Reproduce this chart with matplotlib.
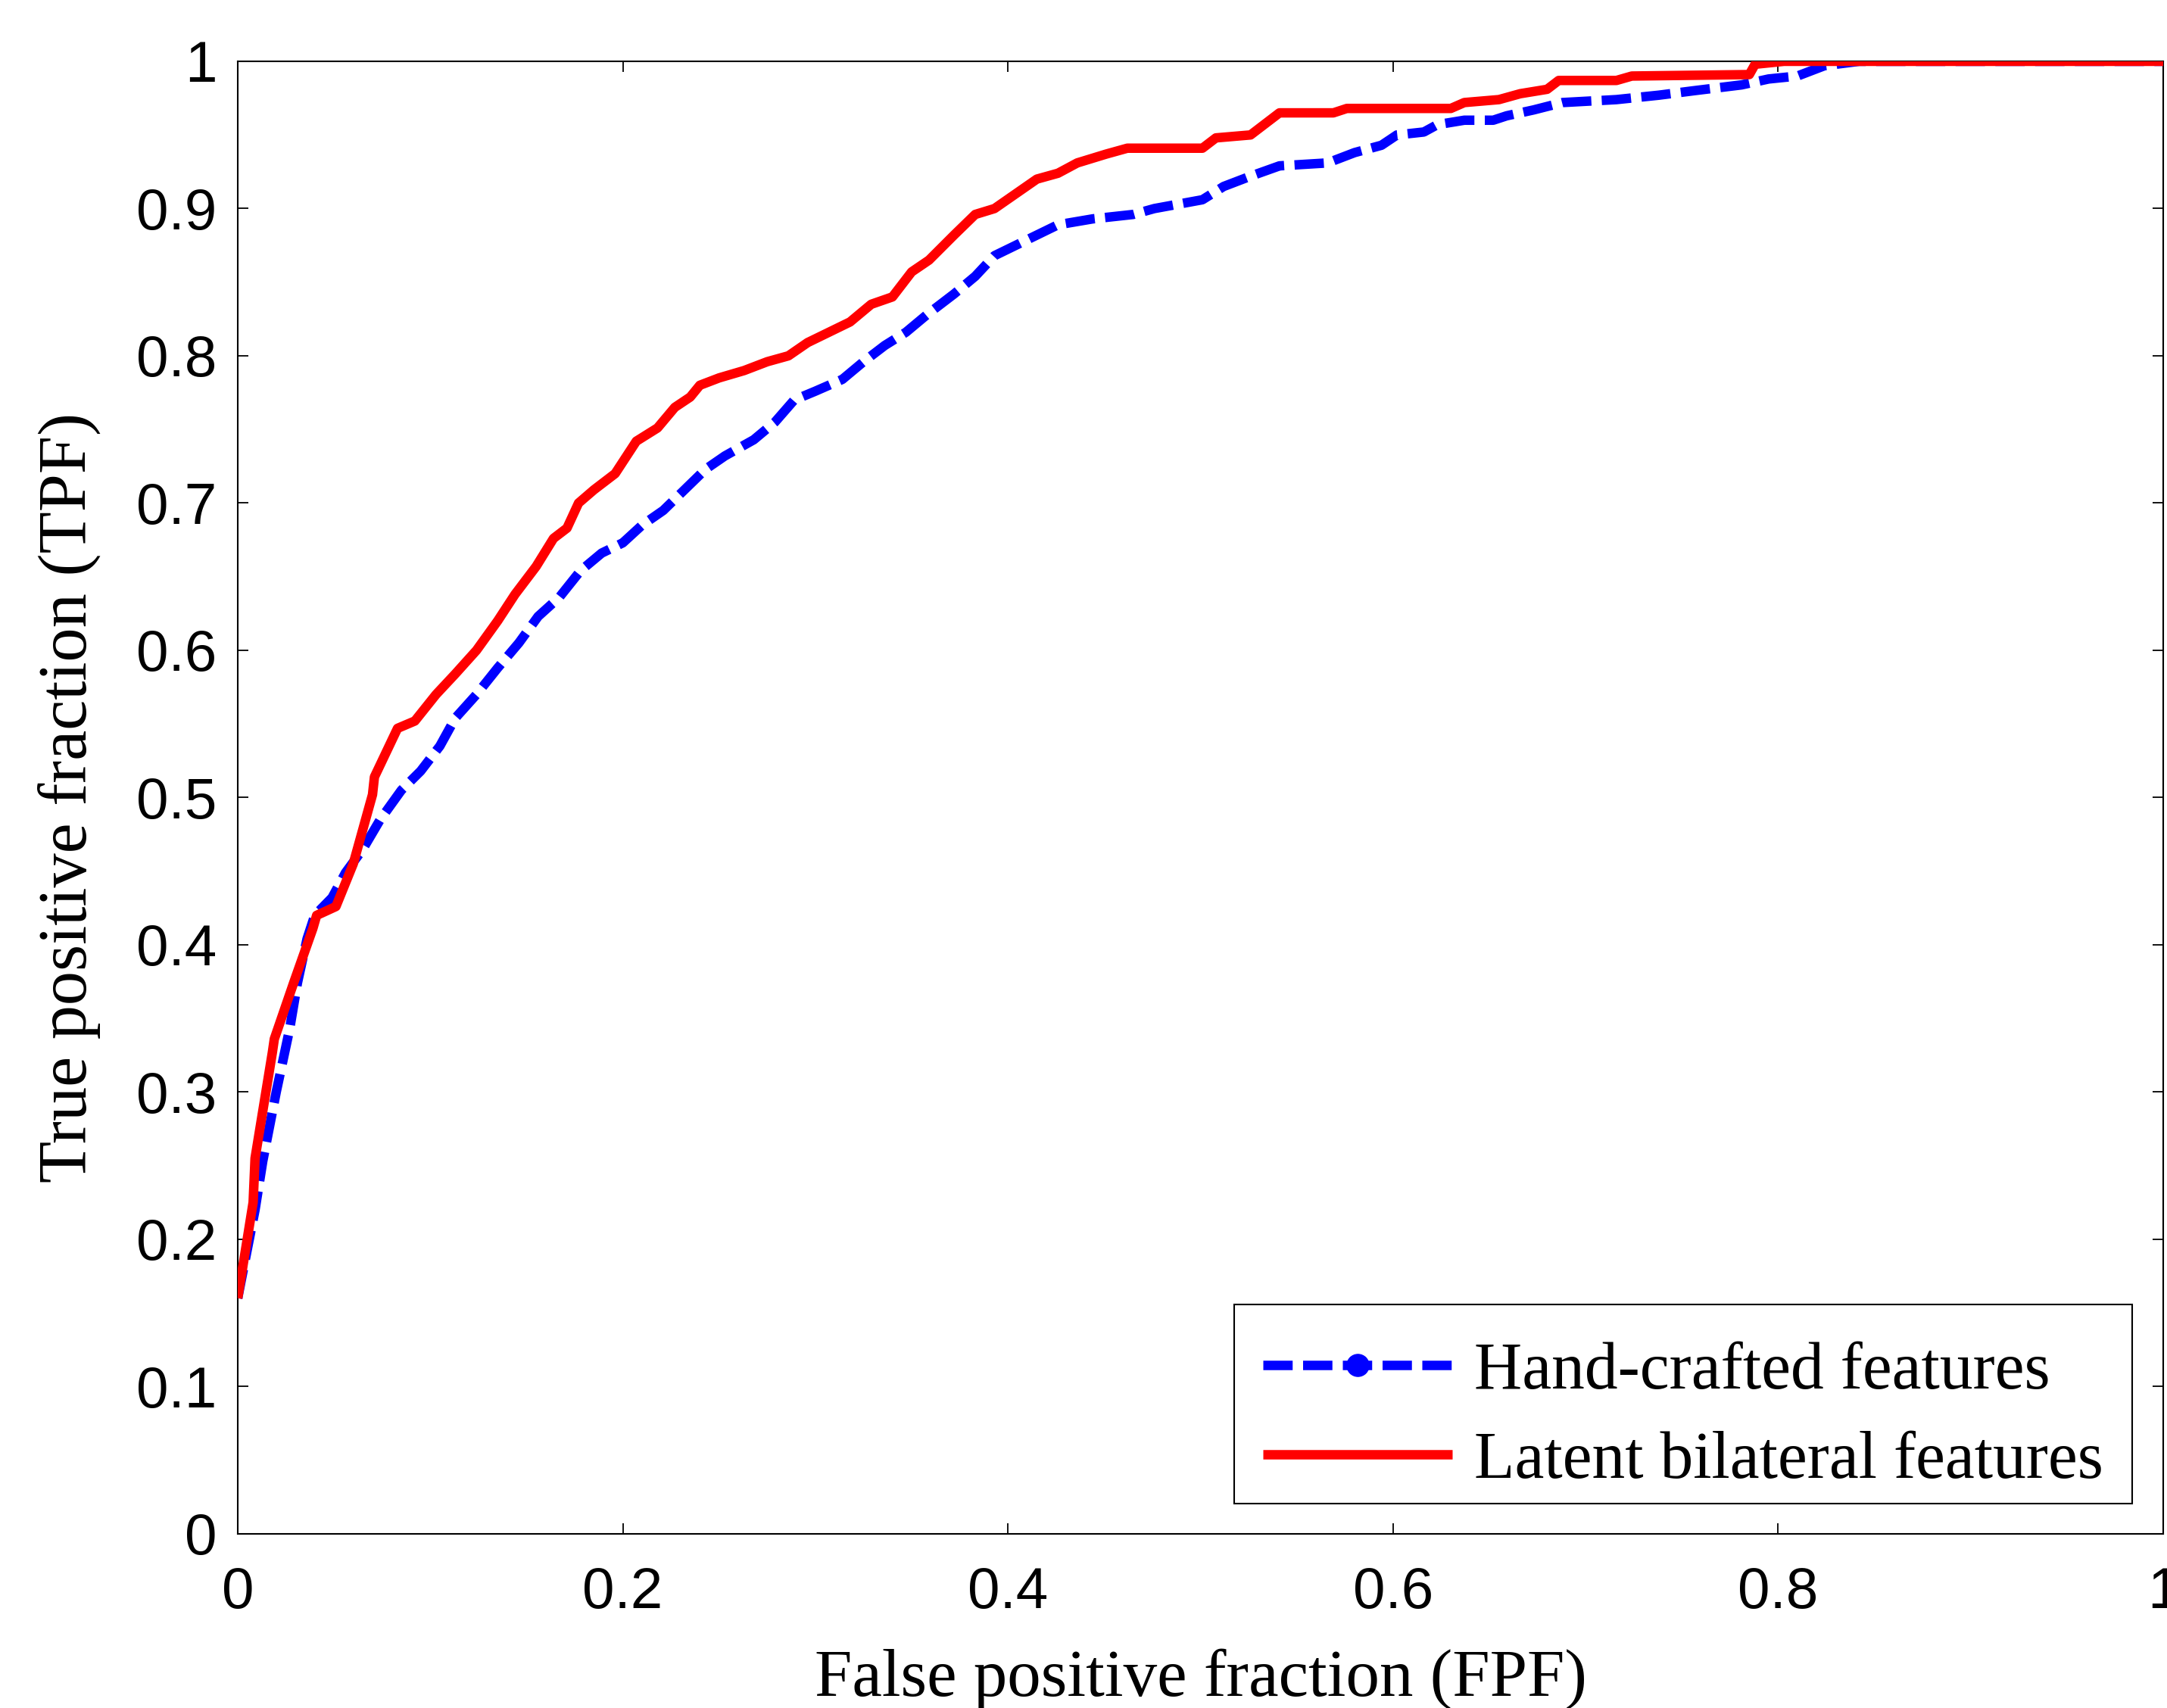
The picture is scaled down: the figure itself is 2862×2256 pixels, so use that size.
import matplotlib
matplotlib.use("Agg")
import matplotlib.pyplot as plt
from matplotlib.lines import Line2D
from matplotlib.patches import Rectangle

# ---- data ----
fpf_latent = [0.0, 0.008, 0.009, 0.018, 0.019, 0.029, 0.039, 0.041, 0.051, 0.060, 0.070, 0.071,
              0.083, 0.092, 0.103, 0.113, 0.124, 0.135, 0.144, 0.155, 0.164, 0.171, 0.177, 0.185,
              0.196, 0.207, 0.218, 0.227, 0.235, 0.240, 0.250, 0.263, 0.275, 0.286, 0.296, 0.307,
              0.318, 0.329, 0.340, 0.350, 0.359, 0.372, 0.383, 0.393, 0.404, 0.415, 0.426, 0.436,
              0.451, 0.462, 0.501, 0.508, 0.526, 0.541, 0.569, 0.576, 0.630, 0.637, 0.655, 0.666,
              0.680, 0.686, 0.716, 0.724, 0.785, 0.788, 0.803, 1.0]
tpf_latent = [0.160, 0.225, 0.255, 0.327, 0.336, 0.374, 0.411, 0.420, 0.426, 0.455, 0.502, 0.514,
              0.547, 0.552, 0.570, 0.584, 0.600, 0.620, 0.638, 0.657, 0.676, 0.683, 0.700, 0.709,
              0.720, 0.742, 0.751, 0.765, 0.772, 0.780, 0.785, 0.790, 0.796, 0.800, 0.809, 0.816,
              0.823, 0.835, 0.840, 0.857, 0.865, 0.882, 0.896, 0.900, 0.910, 0.920, 0.924, 0.931,
              0.937, 0.941, 0.941, 0.948, 0.950, 0.965, 0.965, 0.968, 0.968, 0.972, 0.974, 0.978,
              0.981, 0.987, 0.987, 0.990, 0.991, 0.998, 1.0, 1.0]

fpf_hand = [0.0, 0.009, 0.013, 0.020, 0.027, 0.031, 0.036, 0.040, 0.049, 0.056, 0.065, 0.074,
            0.085, 0.095, 0.105, 0.113, 0.124, 0.135, 0.146, 0.156, 0.167, 0.178, 0.189, 0.200,
            0.210, 0.221, 0.232, 0.243, 0.253, 0.268, 0.279, 0.289, 0.300, 0.314, 0.325, 0.336,
            0.347, 0.358, 0.372, 0.383, 0.393, 0.404, 0.415, 0.426, 0.444, 0.465, 0.476, 0.501,
            0.512, 0.526, 0.541, 0.566, 0.580, 0.594, 0.602, 0.616, 0.623, 0.637, 0.652, 0.659,
            0.673, 0.688, 0.716, 0.738, 0.756, 0.781, 0.795, 0.810, 0.824, 0.842, 1.0]
tpf_hand = [0.160, 0.220, 0.253, 0.300, 0.343, 0.374, 0.404, 0.420, 0.432, 0.449, 0.465, 0.485,
            0.505, 0.518, 0.535, 0.554, 0.570, 0.588, 0.605, 0.623, 0.636, 0.654, 0.666, 0.673,
            0.685, 0.695, 0.709, 0.723, 0.732, 0.743, 0.755, 0.770, 0.776, 0.784, 0.796, 0.807,
            0.816, 0.828, 0.842, 0.854, 0.868, 0.875, 0.882, 0.889, 0.893, 0.896, 0.900, 0.906,
            0.915, 0.922, 0.929, 0.931, 0.938, 0.943, 0.950, 0.952, 0.957, 0.960, 0.960, 0.963,
            0.967, 0.972, 0.974, 0.977, 0.980, 0.984, 0.988, 0.990, 0.997, 1.0, 1.0]

x_ticks = [0, 0.2, 0.4, 0.6, 0.8, 1]
x_tick_labels = ["0", "0.2", "0.4", "0.6", "0.8", "1"]
y_ticks = [0, 0.1, 0.2, 0.3, 0.4, 0.5, 0.6, 0.7, 0.8, 0.9, 1]
y_tick_labels = ["0", "0.1", "0.2", "0.3", "0.4", "0.5", "0.6", "0.7", "0.8", "0.9", "1"]
series_names = ["Hand-crafted features", "Latent bilateral features"]

serif = ["Liberation Serif", "DejaVu Serif"]
sans = ["Liberation Sans", "DejaVu Sans"]

fig = plt.figure(figsize=(28.62, 22.56), dpi=100)
ax = fig.add_axes([0.1097, 0.1020, 0.9983 - 0.1097, 0.9641 - 0.1020])

lw = 9
ax.plot(fpf_hand, tpf_hand, color="#0000ff", lw=lw, linestyle=(0, (3.1, 1.1)),
        dash_capstyle="butt", solid_joinstyle="round", zorder=2)
ax.plot(fpf_latent, tpf_latent, color="#ff0000", lw=lw, solid_capstyle="butt",
        solid_joinstyle="round", zorder=3)

ax.set_xlim(0, 1)
ax.set_ylim(0, 1)
ax.set_xticks(x_ticks)
ax.set_xticklabels(x_tick_labels)
ax.set_yticks(y_ticks)
ax.set_yticklabels(y_tick_labels)
for lab in ax.get_xticklabels() + ax.get_yticklabels():
    lab.set_family(sans)
    lab.set_fontsize(55)

ax.tick_params(axis="both", direction="in", length=10, width=1.3, top=True, right=True,
               colors="black")
ax.tick_params(axis="x", pad=31)
ax.tick_params(axis="y", pad=20)
for sp in ax.spines.values():
    sp.set_linewidth(1.5)
    sp.set_color("black")

ax.set_xlabel("False positive fraction (FPF)", family=serif, fontsize=64)
ax.set_ylabel("True positive fraction (TPF)", family=serif, fontsize=65)
ax.xaxis.set_label_coords(0.5, -0.078)
ax.yaxis.set_label_coords(-0.071, 0.5)

# legend box (drawn separately so the entries can sit as in the reference)
ax.add_patch(Rectangle((0.5175, 0.0206), 0.9839 - 0.5175, 0.1558 - 0.0206,
                       transform=ax.transAxes, facecolor="white", edgecolor="black",
                       linewidth=1.5, zorder=5))

h_hand = Line2D([], [], color="#0000ff", lw=lw, linestyle=(0, (3.1, 1.1)),
                dash_capstyle="butt", marker="o", markersize=21)
h_latent = Line2D([], [], color="#ff0000", lw=lw, solid_capstyle="butt")
leg = ax.legend([h_hand, h_latent], series_names, loc="lower right",
                bbox_to_anchor=(0.982, 0.0112), bbox_transform=ax.transAxes,
                borderaxespad=0, prop={"family": serif, "size": 63},
                frameon=False, handlelength=2.86, handletextpad=0.33,
                borderpad=0.38, labelspacing=0.42, numpoints=1)
leg.set_zorder(6)

fig.savefig("out.png", dpi=100, facecolor="white")
